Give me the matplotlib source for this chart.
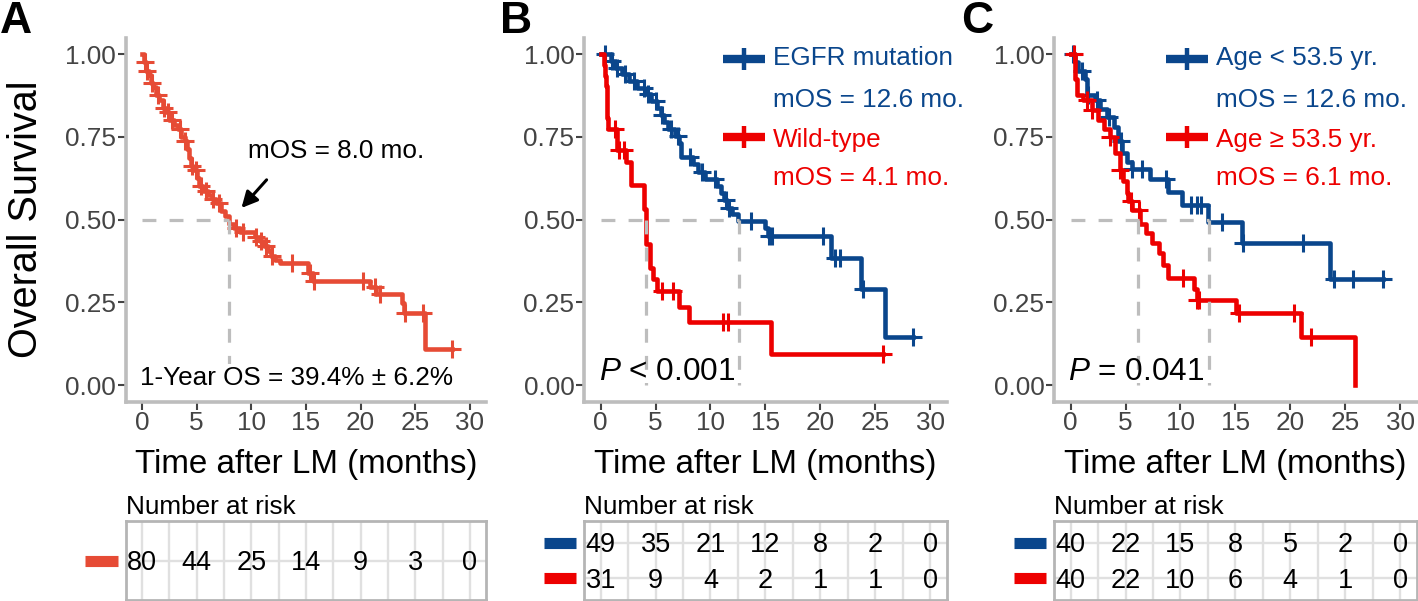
import numpy as np
import matplotlib
matplotlib.use('Agg')
import matplotlib.pyplot as plt
import matplotlib.transforms as mtrans

plt.rcParams['font.family'] = ['Liberation Sans', 'DejaVu Sans']
plt.rcParams['mathtext.fontset'] = 'custom'
plt.rcParams['mathtext.it'] = 'Liberation Sans:italic'
plt.rcParams['mathtext.rm'] = 'Liberation Sans'
plt.rcParams['lines.scale_dashes'] = False

# ---------------- data ----------------
risk_times = [0, 5, 10, 15, 20, 25, 30]
x_ticks = [0, 5, 10, 15, 20, 25, 30]
y_ticks = [0.00, 0.25, 0.50, 0.75, 1.00]
y_ticklabels = ['0.00', '0.25', '0.50', '0.75', '1.00']

# Panel A: all patients
a_t = [0, 0.2, 0.4, 0.6, 0.8, 1.0, 1.3, 1.6, 1.9, 2.2, 2.5, 2.9, 3.3, 3.6, 3.9, 4.1, 4.3, 4.5,
       4.7, 5.0, 5.2, 5.6, 6.0, 6.4, 6.8, 7.2, 7.6, 8.0, 8.4, 9.0, 10.3, 10.8, 11.2, 11.5,
       11.8, 12.2, 12.6, 15.2, 15.6, 20.9, 21.4, 23.8, 24.0, 25.9]
a_s = [1.0, 0.975, 0.950, 0.937, 0.912, 0.900, 0.875, 0.862, 0.837, 0.825, 0.800, 0.787,
       0.775, 0.750, 0.737, 0.712, 0.687, 0.662, 0.650, 0.625, 0.600, 0.587, 0.575, 0.562,
       0.550, 0.525, 0.512, 0.487, 0.475, 0.462, 0.448, 0.434, 0.420, 0.405, 0.390, 0.378,
       0.368, 0.340, 0.314, 0.295, 0.274, 0.247, 0.219, 0.110]
a_end = 28.4
a_cens = [0.3, 0.5, 0.9, 1.5, 2.0, 2.4, 2.7, 3.5, 3.95, 4.55, 4.9, 5.4, 5.9, 6.5, 7.0, 8.6,
          9.2, 10.4, 10.9, 11.3, 11.9, 13.7, 15.4, 15.7, 20.2, 21.3, 21.8, 24.1, 25.7, 28.4]
a_risk = [80, 44, 25, 14, 9, 3, 0]
a_median = [8.0]

# Panel B: EGFR mutation vs wild-type
b_mut_t = [0, 0.9, 1.3, 1.9, 2.6, 3.3, 4.0, 4.6, 5.1, 5.5, 5.8, 6.1, 6.8, 7.1, 7.3, 8.4, 8.9,
           9.5, 10.6, 11.0, 11.2, 11.5, 12.0, 12.5, 15.0, 15.2, 21.0, 23.7, 25.9]
b_mut_s = [1.0, 0.980, 0.959, 0.939, 0.918, 0.898, 0.878, 0.857, 0.836, 0.815, 0.794, 0.773,
           0.752, 0.731, 0.689, 0.667, 0.645, 0.624, 0.602, 0.580, 0.558, 0.536, 0.517,
           0.497, 0.473, 0.449, 0.385, 0.289, 0.144]
b_mut_end = 28.4
b_mut_cens = [0.4, 1.0, 1.5, 2.2, 3.0, 3.9, 4.3, 5.0, 5.6, 6.4, 7.0, 8.1, 9.2, 10.4, 11.4,
              11.7, 13.7, 15.3, 15.6, 20.2, 21.3, 21.8, 23.9, 28.4]
b_wt_t = [0, 0.3, 0.4, 0.5, 0.55, 0.6, 0.67, 1.45, 2.35, 2.8, 3.9, 4.1, 4.5, 4.8, 5.1, 7.15,
          8.05, 15.55]
b_wt_s = [1.0, 0.968, 0.935, 0.903, 0.839, 0.806, 0.774, 0.710, 0.674, 0.604, 0.532, 0.426,
          0.355, 0.320, 0.284, 0.237, 0.190, 0.095]
b_wt_end = 25.7
b_wt_cens = [1.3, 1.7, 2.1, 5.6, 6.55, 11.1, 11.6, 25.7]
b_risk = [[49, 35, 21, 12, 8, 2, 0], [31, 9, 4, 2, 1, 1, 0]]
b_median = [4.1, 12.6]
b_labels = ['EGFR mutation', 'Wild-type']
b_mos = ['mOS = 12.6 mo.', 'mOS = 4.1 mo.']

# Panel C: age groups
c_young_t = [0, 0.4, 0.7, 1.3, 1.45, 2.2, 2.67, 3.3, 3.9, 4.3, 4.65, 5.1, 5.55, 7.2, 8.9,
             10.1, 12.5, 15.6, 23.6]
c_young_s = [1.0, 0.975, 0.950, 0.925, 0.875, 0.860, 0.835, 0.810, 0.780, 0.738, 0.700,
             0.675, 0.654, 0.624, 0.584, 0.544, 0.494, 0.428, 0.319]
c_young_end = 28.4
c_young_cens = [0.25, 1.0, 1.6, 2.4, 3.5, 4.6, 5.6, 6.5, 8.7, 11.0, 11.5, 11.9, 13.75,
                15.7, 21.2, 24.0, 25.7, 28.4]
c_old_t = [0, 0.4, 0.55, 1.15, 1.9, 2.5, 3.0, 3.6, 4.0, 4.5, 4.8, 5.1, 5.25, 5.55, 6.3, 6.9,
           7.4, 8.0, 8.45, 8.9, 11.2, 11.5, 15.1, 21.0, 25.9]
c_old_s = [1.0, 0.925, 0.875, 0.862, 0.831, 0.800, 0.775, 0.750, 0.700, 0.650, 0.615, 0.580,
           0.555, 0.530, 0.488, 0.458, 0.428, 0.398, 0.363, 0.322, 0.290, 0.257, 0.217,
           0.146, 0.0]
c_old_end = 25.9
c_old_cens = [0.3, 1.45, 1.9, 3.6, 4.5, 5.5, 6.2, 10.25, 11.5, 11.7, 15.35, 20.3, 21.9]
c_risk = [[40, 22, 15, 8, 5, 2, 0], [40, 22, 10, 6, 4, 1, 0]]
c_median = [6.1, 12.6]
c_labels = ['Age < 53.5 yr.', 'Age \u2265 53.5 yr.']
c_mos = ['mOS = 12.6 mo.', 'mOS = 6.1 mo.']

col_a = '#E64B35'
col_blue = '#0A468C'
col_red = '#ED0000'

# ---------------- layout ----------------
W, H = 1418, 601
fig = plt.figure(figsize=(W / 100, H / 100), dpi=100)


def rect(l, t, r, b):
    return [l / W, 1 - b / H, (r - l) / W, (b - t) / H]


FS = 18.8
spine_col = '#BDBDBD'
tick_col = '#444444'


def setup_axes(ax):
    ax.set_xlim(-1.5, 31.5)
    ax.set_ylim(-0.05, 1.05)
    for s in ['top', 'right']:
        ax.spines[s].set_visible(False)
    for s in ['left', 'bottom']:
        ax.spines[s].set_color(spine_col)
        ax.spines[s].set_linewidth(2.6)
    ax.set_xticks(x_ticks)
    ax.set_yticks(y_ticks)
    ax.set_yticklabels(y_ticklabels)
    ax.tick_params(axis='both', colors=tick_col, labelsize=18.8, length=5.5, width=1.5,
                   pad=1.5, labelcolor=tick_col)
    ax.text(0.5, -0.196, 'Time after LM (months)', transform=ax.transAxes, ha='center',
            va='baseline', fontsize=23.9, color='black')


def km(ax, t, s, end, color, cens):
    xs = list(t) + [end]
    ys = list(s) + [s[-1]]
    ax.step(xs, ys, where='post', color=color, lw=3.3, zorder=3)
    t_arr = np.asarray(t)
    s_arr = np.asarray(s)
    idx = np.searchsorted(t_arr, cens, side='right') - 1
    ax.plot(cens, s_arr[idx], ls='none', marker='+', ms=13, mew=2.2, color=color, zorder=3)


def medians(ax, meds):
    dash = dict(color='#BDBDBD', lw=2.3, dashes=(10, 9.5), zorder=4)
    ax.plot([0, max(meds)], [0.5, 0.5], **dash)
    for m in meds:
        ax.plot([m, m], [0.5, 0.0], **dash)


def legend(ax, x0, x1, labels, mos, colors):
    ys_key = [0.985, 0.748]
    ys_lab = [0.967, 0.720]
    ys_mos = [0.841, 0.604]
    for i in range(2):
        ax.plot([x0, x1], [ys_key[i], ys_key[i]], color=colors[i], lw=6, solid_capstyle='butt',
                zorder=5, clip_on=False)
        ax.plot([(x0 + x1) / 2], [ys_key[i]], marker='+', ms=16, mew=3.2, color=colors[i],
                zorder=5, clip_on=False)
        ax.text(x1 + 0.7, ys_lab[i], labels[i], color=colors[i], fontsize=FS, va='baseline',
                ha='left')
        ax.text(x1 + 0.7, ys_mos[i], mos[i], color=colors[i], fontsize=FS, va='baseline',
                ha='left')


def risk_table(l, r, rows, colors):
    tx = fig.add_axes(rect(l, 521, r, 600))
    n = len(rows)
    tx.set_xlim(-1.5, 31.5)
    tx.set_ylim(n + 0.6, 0.4)
    tx.set_xticks([])
    tx.set_yticks([])
    for sp in tx.spines.values():
        sp.set_color('#B5B5B5')
        sp.set_linewidth(2.0)
    for g in np.arange(0, 30.01, 2.5):
        tx.axvline(g, color='#E0E0E0', lw=1.7, zorder=0)
    for i in range(n):
        tx.axhline(i + 1, color='#E0E0E0', lw=1.7, zorder=0)
    off = mtrans.offset_copy(tx.transData, fig=fig, x=0, y=-9.5, units='dots')
    blend = mtrans.blended_transform_factory(tx.transAxes, tx.transData)
    kl = -40.5 / (r - l)
    kr = -8.0 / (r - l)
    for i, row in enumerate(rows):
        for x, v in zip(risk_times, row):
            tx.text(x, i + 1, str(v), ha='center', va='baseline', fontsize=19.5,
                    color='black', transform=off)
        tx.plot([kl, kr], [i + 1, i + 1], color=colors[i], lw=8, solid_capstyle='butt',
                transform=blend, clip_on=False)
    tx.text(0.0, 1.0 + 7 / 79, 'Number at risk', transform=tx.transAxes, ha='left',
            va='baseline', fontsize=FS, color='black')
    return tx


# Panel A
axA = fig.add_axes(rect(125.6, 37.5, 486.3, 401.6))
setup_axes(axA)
km(axA, a_t, a_s, a_end, col_a, a_cens)
medians(axA, a_median)
axA.text(17.8, 0.685, 'mOS = 8.0 mo.', ha='center', va='baseline', fontsize=FS)
axA.annotate('', xy=(9.1, 0.535), xytext=(11.4, 0.620),
             arrowprops=dict(arrowstyle='-|>', lw=2.2, color='black', mutation_scale=24,
                             shrinkA=0, shrinkB=0))
axA.text(14.1, 0.0, '1-Year OS = 39.4% \u00b1 6.2%', ha='center', va='baseline',
         fontsize=FS, zorder=6,
         bbox=dict(facecolor='white', edgecolor='none', pad=1.5))

# Panel B
axB = fig.add_axes(rect(584.2, 37.5, 946.6, 401.6))
setup_axes(axB)
km(axB, b_mut_t, b_mut_s, b_mut_end, col_blue, b_mut_cens)
km(axB, b_wt_t, b_wt_s, b_wt_end, col_red, b_wt_cens)
medians(axB, b_median)
legend(axB, 11.1, 15.0, b_labels, b_mos, [col_blue, col_red])
axB.text(-0.15, 0.015, r'$P$ < 0.001', ha='left', va='baseline', fontsize=22.7, zorder=6)

# Panel C
axC = fig.add_axes(rect(1054.2, 37.5, 1416.6, 401.6))
setup_axes(axC)
km(axC, c_young_t, c_young_s, c_young_end, col_blue, c_young_cens)
km(axC, c_old_t, c_old_s, c_old_end, col_red, c_old_cens)
medians(axC, c_median)
legend(axC, 8.7, 12.5, c_labels, c_mos, [col_blue, col_red])
axC.text(-0.25, 0.015, r'$P$ = 0.041', ha='left', va='baseline', fontsize=22.7, zorder=6)

# risk tables
risk_table(125.6, 486.3, [a_risk], [col_a])
risk_table(584.2, 946.6, b_risk, [col_blue, col_red])
risk_table(1054.2, 1416.6, c_risk, [col_blue, col_red])

# y label and panel letters
fig.text(26 / W, 1 - 219.5 / H, 'Overall Survival', rotation=90, ha='center', va='center',
         fontsize=28.5)
for lab, xp in [('A', 0), ('B', 500), ('C', 961)]:
    fig.text(xp / W, 0.999, lab, ha='left', va='top', fontsize=32, fontweight='bold')

fig.savefig('out.png', dpi=100)
